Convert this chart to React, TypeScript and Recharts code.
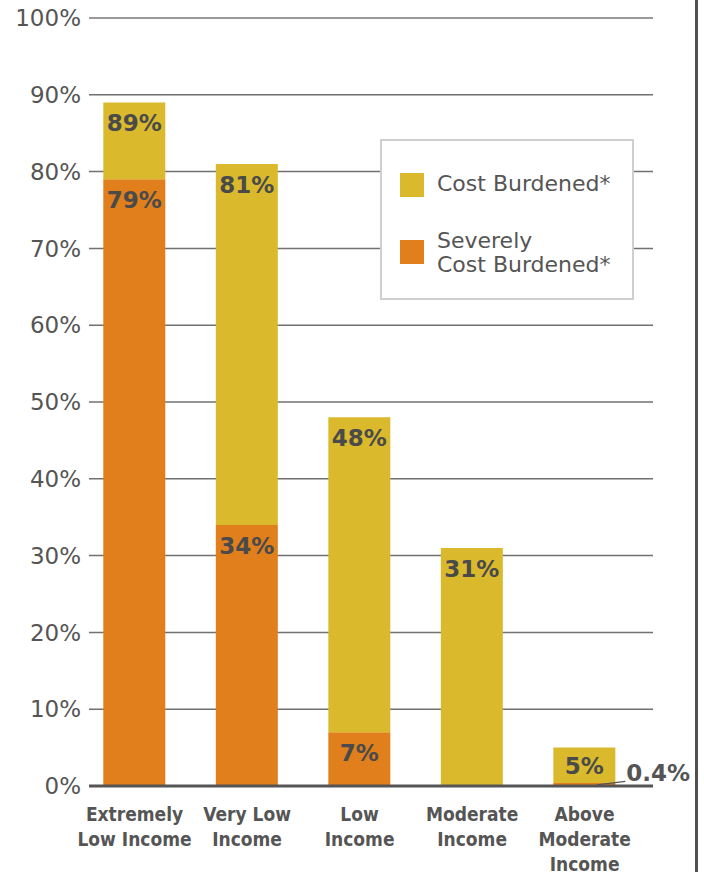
import React from "react";
import { BarChart, Bar, XAxis, YAxis, CartesianGrid, Legend, LabelList, ReferenceLine } from "recharts";

const categories = [
  "Extremely Low Income",
  "Very Low Income",
  "Low Income",
  "Moderate Income",
  "Above Moderate Income",
];
const tickLines = [
  ["Extremely", "Low Income"],
  ["Very Low", "Income"],
  ["Low", "Income"],
  ["Moderate", "Income"],
  ["Above", "Moderate", "Income"],
];
const costBurdened = [89, 81, 48, 31, 5];
const severelyCostBurdened = [79, 34, 7, 0, 0.4];
const yTicks = [0, 10, 20, 30, 40, 50, 60, 70, 80, 90, 100];

const YELLOW = "#DABA2C";
const ORANGE = "#E07F1B";
const TEXT = "#555555";
const LABEL = "#4a4a4a";
const FONT = "'DejaVu Sans', sans-serif";

const data = categories.map((name, i) => ({
  idx: i,
  name,
  severe: severelyCostBurdened[i],
  extra: +(costBurdened[i] - severelyCostBurdened[i]).toFixed(2),
  total: costBurdened[i],
}));

const getBox = (p: any) => {
  const vb = p.viewBox || {};
  return {
    x: p.x ?? vb.x,
    y: p.y ?? vb.y,
    width: p.width ?? vb.width,
    height: p.height ?? vb.height,
  };
};

const YellowLabel = (p: any) => {
  const { x, y, width, height } = getBox(p);
  if (p.value == null) return null;
  const cx = x + width / 2;
  const base = height < 45 ? y + height / 2 + 8.5 : y + 29;
  return (
    <text x={cx} y={base} textAnchor="middle" fontFamily={FONT} fontWeight={700} fontSize={23} fill={LABEL}>
      {`${p.value}%`}
    </text>
  );
};

const OrangeLabel = (p: any) => {
  const { x, y, width, height } = getBox(p);
  const v = Number(p.value);
  if (!v) return null;
  if (v < 1) {
    const my = y + height / 2;
    const x1 = x + width * 0.7;
    const x2 = x + width + 10;
    return (
      <g>
        <line x1={x1} y1={my + 0.5} x2={x2} y2={my - 3} stroke="#555" strokeWidth={1.2} />
        <text x={x2 + 1} y={my - 3} textAnchor="start" fontFamily={FONT} fontWeight={700} fontSize={23} fill={TEXT}>
          {`${v}%`}
        </text>
      </g>
    );
  }
  return (
    <text x={x + width / 2} y={y + 29} textAnchor="middle" fontFamily={FONT} fontWeight={700} fontSize={23} fill={LABEL}>
      {`${v}%`}
    </text>
  );
};

const XTick = (p: any) => {
  const { x, y, payload } = p;
  const lines = tickLines[payload.value] || [];
  return (
    <text
      x={x}
      y={y}
      textAnchor="middle"
      fontFamily="'DejaVu Sans Condensed', 'DejaVu Sans', sans-serif"
      style={{ fontStretch: "condensed" }}
      fontWeight={700}
      fontSize={19}
      fill={TEXT}
    >
      {lines.map((l, i) => (
        <tspan key={i} x={x} dy={i === 0 ? 35 : 25}>
          {l}
        </tspan>
      ))}
    </text>
  );
};

const LegendBox = (props: any) => {
  const payload: any[] = props.payload || [];
  const cost = payload.find((e) => e.dataKey === "extra");
  const sev = payload.find((e) => e.dataKey === "severe");
  const items = [cost, sev].filter(Boolean);
  const tops = [31.4, 88.4];
  const swatchTops = [32, 99];
  return (
    <div
      style={{
        position: "relative",
        boxSizing: "border-box",
        width: 254,
        height: 161,
        border: "2px solid #cfcfcf",
        background: "#fff",
        fontFamily: FONT,
        fontSize: 22,
        lineHeight: "24px",
        color: TEXT,
      }}
    >
      {items.map((e: any, i: number) => (
        <React.Fragment key={i}>
          <div
            style={{
              position: "absolute",
              left: 18,
              top: swatchTops[i],
              width: 24,
              height: 24,
              background: e.color,
            }}
          />
          <div style={{ position: "absolute", left: 55, top: tops[i], whiteSpace: "pre" }}>
            {String(e.value)}
          </div>
        </React.Fragment>
      ))}
    </div>
  );
};

export default function App() {
  return (
    <div style={{ position: "absolute", left: 0, top: 0, width: 704, height: 872, background: "#fff" }}>
      <BarChart
        width={704}
        height={872}
        data={data}
        margin={{ top: 18, right: 51, bottom: 0, left: 0 }}
      >
        <CartesianGrid vertical={false} stroke="#707070" strokeWidth={1.5} />
        <XAxis
          dataKey="idx"
          type="number"
          domain={[-0.405, 4.608]}
          ticks={[0, 1, 2, 3, 4]}
          allowDataOverflow
          height={86}
          tickSize={0}
          tickMargin={0}
          tickLine={false}
          axisLine={{ stroke: "#555", strokeWidth: 3 }}
          tick={<XTick />}
          interval={0}
        />
        <YAxis
          type="number"
          domain={[0, 100]}
          ticks={yTicks}
          width={89}
          tickSize={0}
          tickMargin={8}
          axisLine={false}
          tickLine={false}
          tickFormatter={(v: number) => `${v}%`}
          tick={{ fontSize: 23, fill: TEXT, fontFamily: FONT }}
          interval={0}
        />
        <ReferenceLine y={100} stroke="#9a9a9a" strokeWidth={2} />
        <Legend
          layout="horizontal"
          verticalAlign="middle"
          align="center"
          wrapperStyle={{ left: 380, top: 139, width: 254, height: 161 }}
          content={<LegendBox />}
        />
        <Bar
          dataKey="severe"
          name={"Severely\nCost Burdened*"}
          stackId="a"
          fill={ORANGE}
          barSize={62}
          isAnimationActive={false}
        >
          <LabelList dataKey="severe" content={<OrangeLabel />} />
        </Bar>
        <Bar
          dataKey="extra"
          name="Cost Burdened*"
          stackId="a"
          fill={YELLOW}
          barSize={62}
          isAnimationActive={false}
        >
          <LabelList dataKey="total" content={<YellowLabel />} />
        </Bar>
      </BarChart>
      <div style={{ position: "absolute", left: 695, top: 0, width: 3, height: 872, background: "#505050" }} />
    </div>
  );
}
